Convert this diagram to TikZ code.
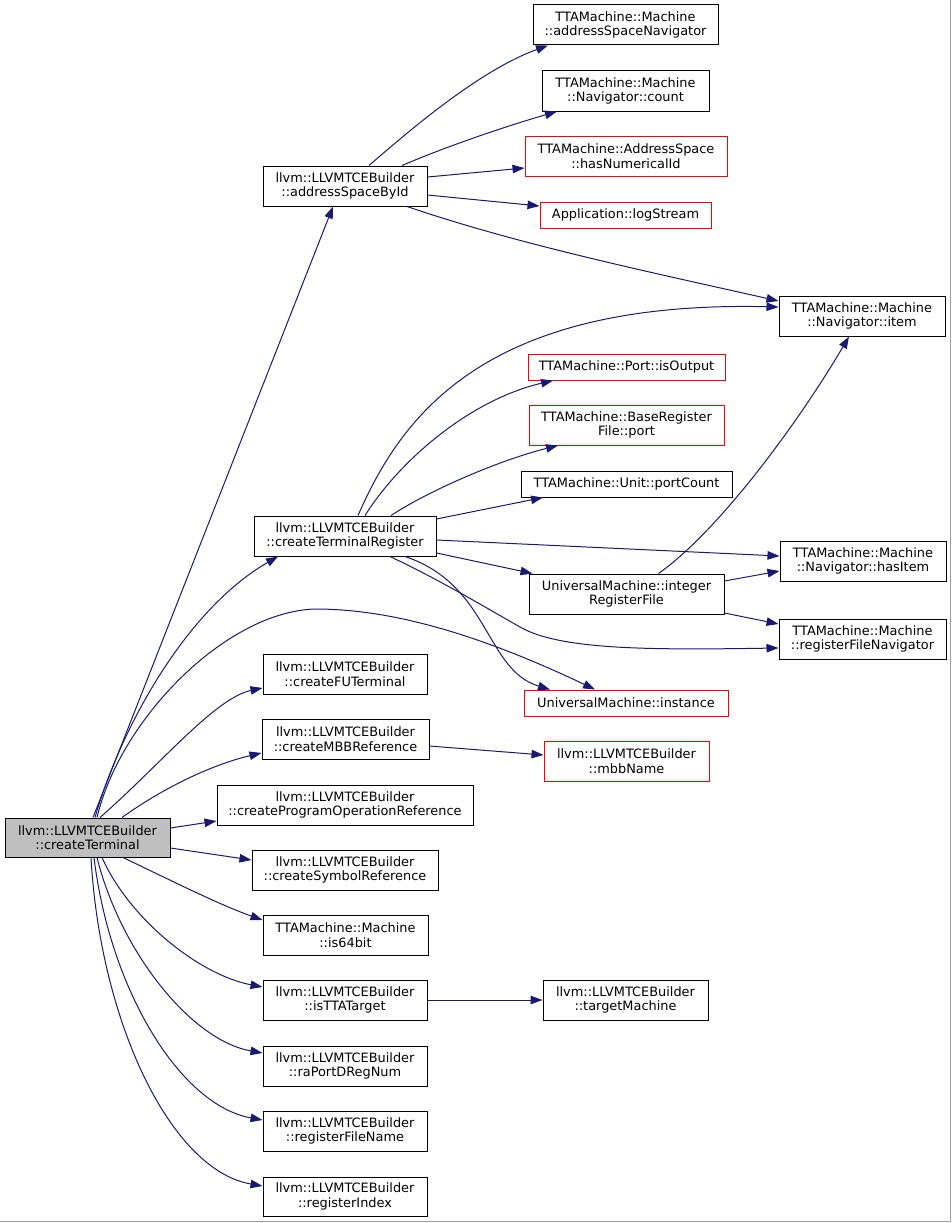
\documentclass[tikz,border=0pt]{standalone}
\usepackage{fontspec}
\setmainfont{DejaVu Sans}
\usetikzlibrary{arrows.meta,calc}
\definecolor{edgec}{HTML}{191970}
\definecolor{rootfill}{HTML}{BFBFBF}
\begin{document}
\begin{tikzpicture}[x=1pt,y=-1pt,
  bx/.style={draw=black, line width=1pt, fill=white, inner sep=0pt, align=center,
    font=\fontsize{12.9}{14.5}\selectfont},
  rb/.style={bx, draw=red},
  e/.style={draw=edgec, line width=1pt, -{Triangle[length=12pt,width=8.5pt]}}]
\useasboundingbox (0,0) rectangle (951,1223);
\draw[color=black!38, line width=1.5pt] (950.3,0) -- (950.3,1221.7) -- (0,1221.7);
% nodes
\node[bx, fill=rootfill, minimum width=165, minimum height=39] (T0) at (87.5,837.5) {llvm::LLVMTCEBuilder\\::createTerminal};
\node[bx, minimum width=164, minimum height=40] (A) at (345,186) {llvm::LLVMTCEBuilder\\::addressSpaceById};
\node[bx, minimum width=182, minimum height=40] (R) at (345,536) {llvm::LLVMTCEBuilder\\::createTerminalRegister};
\node[bx, minimum width=164, minimum height=40] (FU) at (345,674) {llvm::LLVMTCEBuilder\\::createFUTerminal};
\node[bx, minimum width=167, minimum height=40] (MBB) at (345.5,739) {llvm::LLVMTCEBuilder\\::createMBBReference};
\node[bx, minimum width=256, minimum height=40] (POR) at (345,805) {llvm::LLVMTCEBuilder\\::createProgramOperationReference};
\node[bx, minimum width=186, minimum height=40] (SYM) at (345,870) {llvm::LLVMTCEBuilder\\::createSymbolReference};
\node[bx, minimum width=165, minimum height=40] (B64) at (345.5,935) {TTAMachine::Machine\\::is64bit};
\node[bx, minimum width=164, minimum height=40] (TTA) at (345,1000) {llvm::LLVMTCEBuilder\\::isTTATarget};
\node[bx, minimum width=164, minimum height=40] (RAP) at (345,1066) {llvm::LLVMTCEBuilder\\::raPortDRegNum};
\node[bx, minimum width=164, minimum height=40] (RFN) at (345,1131) {llvm::LLVMTCEBuilder\\::registerFileName};
\node[bx, minimum width=164, minimum height=39] (RI) at (345,1196.5) {llvm::LLVMTCEBuilder\\::registerIndex};
\node[bx, minimum width=165, minimum height=40] (TM) at (625.5,1000) {llvm::LLVMTCEBuilder\\::targetMachine};
\node[bx, minimum width=185, minimum height=40] (ASN) at (625.5,25) {TTAMachine::Machine\\::addressSpaceNavigator};
\node[bx, minimum width=167, minimum height=40] (CNT) at (625.5,91) {TTAMachine::Machine\\::Navigator::count};
\node[rb, minimum width=202, minimum height=40] (HNI) at (626,156) {TTAMachine::AddressSpace\\::hasNumericalId};
\node[rb, minimum width=171, minimum height=26] (LOG) at (625.5,215) {Application::logStream};
\node[bx, minimum width=166, minimum height=40] (ITEM) at (862,316) {TTAMachine::Machine\\::Navigator::item};
\node[rb, minimum width=197, minimum height=26] (ISO) at (626.5,367) {TTAMachine::Port::isOutput};
\node[rb, minimum width=195, minimum height=40] (BRF) at (626.5,425) {TTAMachine::BaseRegister\\File::port};
\node[bx, minimum width=211, minimum height=26] (PC) at (626.5,484) {TTAMachine::Unit::portCount};
\node[bx, minimum width=166, minimum height=40] (HAS) at (863,561) {TTAMachine::Machine\\::Navigator::hasItem};
\node[bx, minimum width=195, minimum height=40] (IRF) at (626.5,594) {UniversalMachine::integer\\RegisterFile};
\node[bx, minimum width=167, minimum height=40] (RFNAV) at (862.5,639) {TTAMachine::Machine\\::registerFileNavigator};
\node[rb, minimum width=204, minimum height=26] (INST) at (626,703) {UniversalMachine::instance};
\node[rb, minimum width=165, minimum height=40] (MBBN) at (626.5,761) {llvm::LLVMTCEBuilder\\::mbbName};
% edges from createTerminal
\draw[e] ($(T0.north)+(5.5,0)$) -- ($(A.south)+(-12,0)$);
\draw[e] ($(T0.north)+(7.5,0)$) .. controls (120,730) and (185,610) .. ($(R.south)+(-67,0)$);
\draw[e] ($(T0.north)+(9.5,0)$) .. controls (120,720) and (225,612) .. (315,609)
   .. controls (385,609) and (470,630) .. ($(INST.north)+(-31,0)$);
\draw[e] ($(T0.north)+(12.5,0)$) .. controls (160,765) and (215,698) .. ($(FU.west)+(0,14)$);
\draw[e] ($(T0.north)+(34.5,0)$) .. controls (160,790) and (210,765) .. ($(MBB.west)+(0,14)$);
\draw[e] ($(T0.east)+(0,-9.5)$) -- ($(POR.west)+(0,16)$);
\draw[e] ($(T0.east)+(0,10.5)$) -- ($(SYM.west)+(0,-10)$);
\draw[e] ($(T0.south)+(35.5,0)$) .. controls (170,880) and (220,905) .. ($(B64.west)+(0,-15)$);
\draw[e] ($(T0.south)+(14.5,0)$) .. controls (130,920) and (200,975) .. ($(TTA.west)+(0,-13)$);
\draw[e] ($(T0.south)+(9.5,0)$) .. controls (120,950) and (190,1040) .. ($(RAP.west)+(0,-13)$);
\draw[e] ($(T0.south)+(6.5,0)$) .. controls (110,990) and (180,1105) .. ($(RFN.west)+(0,-11)$);
\draw[e] ($(T0.south)+(3.5,0)$) .. controls (100,1020) and (170,1170) .. ($(RI.west)+(0,-10.5)$);
% edges from addressSpaceById
\draw[e] ($(A.north)+(24,0)$) .. controls (410,130) and (480,70) .. ($(ASN.south)+(-77.5,0)$);
\draw[e] ($(A.north)+(57,0)$) .. controls (450,145) and (510,125) .. ($(CNT.south)+(-68.5,0)$);
\draw[e] ($(A.east)+(0,-9)$) -- ($(HNI.west)+(0,12)$);
\draw[e] ($(A.east)+(0,9)$) -- ($(LOG.west)+(0,-9)$);
\draw[e] ($(A.south)+(62,0)$) .. controls (520,245) and (650,272) .. ($(ITEM.west)+(0,-15)$);
% edges from createTerminalRegister
\draw[e] ($(R.north)+(13,0)$) .. controls (400,420) and (480,300) .. ($(ITEM.west)+(0,-9)$);
\draw[e] ($(R.north)+(20,0)$) .. controls (400,460) and (470,400) .. ($(ISO.south)+(-73.5,0)$);
\draw[e] ($(R.north)+(46,0)$) .. controls (430,490) and (500,460) .. ($(BRF.south)+(-68.5,0)$);
\draw[e] ($(R.east)+(0,-17)$) -- ($(PC.south)+(-83.5,0)$);
\draw[e] ($(R.east)+(0,4)$) -- ($(HAS.west)+(0,-5)$);
\draw[e] ($(R.east)+(0,17)$) -- ($(IRF.north)+(-94,0)$);
\draw[e] ($(R.south)+(60,0)$) .. controls (490,585) and (485,670) .. ($(INST.north)+(-76,0)$);
\draw[e] ($(R.south)+(45,0)$) .. controls (440,580) and (490,610) .. (520,627)
   .. controls (560,650) and (650,650) .. ($(RFNAV.west)+(0,9)$);
% edges from integerRegisterFile
\draw[e] ($(IRF.north)+(32,0)$) .. controls (720,530) and (800,420) .. ($(ITEM.south)+(-13,0)$);
\draw[e] ($(IRF.east)+(0,-13)$) -- ($(HAS.west)+(0,10)$);
\draw[e] ($(IRF.east)+(0,19)$) -- ($(RFNAV.west)+(0,-15)$);
% others
\draw[e] ($(MBB.east)+(0,7)$) -- ($(MBBN.west)+(0,-6)$);
\draw[e] (TTA.east) -- (TM.west);
\end{tikzpicture}
\end{document}
